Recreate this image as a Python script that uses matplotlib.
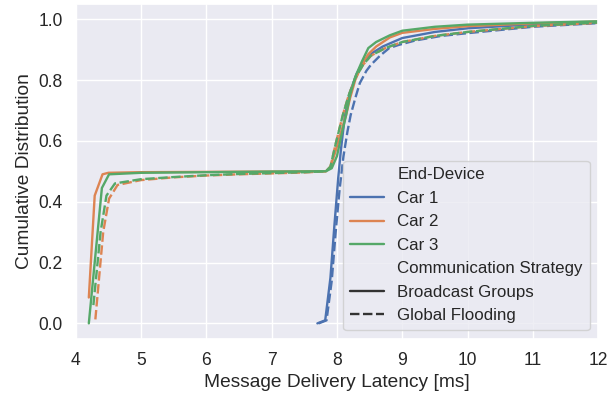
import matplotlib
matplotlib.use("Agg")
import matplotlib.pyplot as plt
from matplotlib.lines import Line2D
import seaborn as sns

sns.set_theme(font_scale=1.15)
plt.rcParams['font.family'] = ['Liberation Sans', 'DejaVu Sans']

# latency [ms] vs. cumulative distribution
car1_bg_x = [7.70, 7.82, 7.90, 7.96, 8.02, 8.06, 8.12, 8.20, 8.30, 8.40, 8.55, 8.70, 9.0, 9.5, 10.0, 11.0, 12.0]
car1_bg_y = [0.00, 0.01, 0.15, 0.32, 0.48, 0.57, 0.68, 0.76, 0.82, 0.86, 0.89, 0.91, 0.938, 0.958, 0.970, 0.983, 0.990]
car1_gf_x = [7.72, 7.84, 7.92, 7.98, 8.04, 8.10, 8.16, 8.21, 8.28, 8.35, 8.45, 8.52, 8.66, 8.80, 8.94, 9.2, 9.6, 10.0, 11.0, 12.0]
car1_gf_y = [0.00, 0.01, 0.14, 0.30, 0.44, 0.55, 0.63, 0.685, 0.74, 0.79, 0.83, 0.85, 0.88, 0.905, 0.915, 0.93, 0.945, 0.954, 0.975, 0.987]

car2_bg_x = [4.20, 4.29, 4.41, 4.50, 5.0, 6.0, 7.0, 7.83, 7.90, 7.97, 8.05, 8.14, 8.20, 8.28, 8.38, 8.48, 8.60, 8.81, 9.0, 9.5, 10.0, 11.0, 12.0]
car2_bg_y = [0.085, 0.42, 0.49, 0.495, 0.497, 0.498, 0.499, 0.50, 0.515, 0.56, 0.62, 0.685, 0.74, 0.80, 0.85, 0.885, 0.91, 0.94, 0.955, 0.968, 0.977, 0.986, 0.992]
car2_gf_x = [4.30, 4.42, 4.51, 4.64, 5.0, 5.5, 6.0, 6.5, 7.0, 7.5, 7.83, 7.90, 7.98, 8.09, 8.18, 8.28, 8.40, 8.52, 8.74, 9.0, 9.5, 10.0, 11.0, 12.0]
car2_gf_y = [0.013, 0.30, 0.41, 0.455, 0.471, 0.480, 0.486, 0.490, 0.493, 0.496, 0.50, 0.515, 0.59, 0.685, 0.75, 0.806, 0.85, 0.88, 0.905, 0.925, 0.945, 0.958, 0.977, 0.988]

car3_bg_x = [4.20, 4.40, 4.51, 5.0, 6.0, 7.0, 7.83, 7.92, 8.00, 8.07, 8.14, 8.20, 8.28, 8.38, 8.48, 8.60, 8.81, 9.0, 9.5, 10.0, 11.0, 12.0]
car3_bg_y = [0.00, 0.445, 0.49, 0.495, 0.497, 0.499, 0.50, 0.51, 0.55, 0.62, 0.685, 0.75, 0.81, 0.86, 0.905, 0.925, 0.947, 0.962, 0.975, 0.982, 0.988, 0.993]
car3_gf_x = [4.27, 4.38, 4.47, 4.60, 5.0, 5.5, 6.0, 6.5, 7.0, 7.5, 7.83, 7.90, 7.98, 8.09, 8.18, 8.28, 8.40, 8.52, 8.74, 9.0, 9.5, 10.0, 11.0, 12.0]
car3_gf_y = [0.06, 0.30, 0.42, 0.46, 0.474, 0.481, 0.487, 0.491, 0.494, 0.497, 0.50, 0.515, 0.59, 0.685, 0.75, 0.806, 0.85, 0.88, 0.905, 0.925, 0.945, 0.958, 0.978, 0.989]

devices = ['Car 1', 'Car 2', 'Car 3']
strategies = ['Broadcast Groups', 'Global Flooding']
curves = {
    ('Car 1', 'Broadcast Groups'): (car1_bg_x, car1_bg_y),
    ('Car 1', 'Global Flooding'): (car1_gf_x, car1_gf_y),
    ('Car 2', 'Broadcast Groups'): (car2_bg_x, car2_bg_y),
    ('Car 2', 'Global Flooding'): (car2_gf_x, car2_gf_y),
    ('Car 3', 'Broadcast Groups'): (car3_bg_x, car3_bg_y),
    ('Car 3', 'Global Flooding'): (car3_gf_x, car3_gf_y),
}

colors = sns.color_palette('deep', 3)
dash_styles = {'Broadcast Groups': '', 'Global Flooding': (4, 1.5)}
lw = 1.7

fig = plt.figure(figsize=(6.11, 3.96), dpi=100)
ax = fig.add_axes([0.124, 0.145, 0.855, 0.845])

for dev, col in zip(devices, colors):
    for strat in strategies:
        xs, ys = curves[(dev, strat)]
        line, = ax.plot(xs, ys, color=col, lw=lw)
        if dash_styles[strat]:
            line.set_dashes(dash_styles[strat])

ax.set_xlim(4, 12)
ax.set_ylim(-0.05, 1.05)
ax.set_xlabel('Message Delivery Latency [ms]')
ax.set_ylabel('Cumulative Distribution')

blank = Line2D([], [], linestyle='', marker='')
handles = [blank]
labels = ['End-Device']
for dev, col in zip(devices, colors):
    handles.append(Line2D([], [], color=col, lw=lw))
    labels.append(dev)
handles.append(blank)
labels.append('Communication Strategy')
for strat in strategies:
    h = Line2D([], [], color='.2', lw=lw)
    if dash_styles[strat]:
        h.set_dashes(dash_styles[strat])
    handles.append(h)
    labels.append(strat)
ax.legend(handles, labels, loc='lower right', fontsize=12.2)

fig.savefig('out.png', dpi=100)
